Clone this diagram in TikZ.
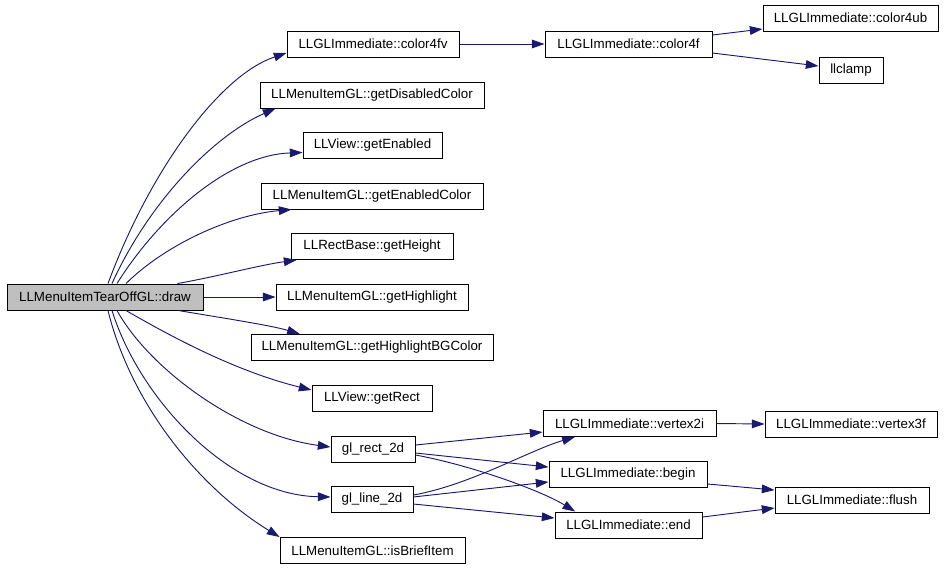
\documentclass[tikz,border=0pt]{standalone}
\usepackage{fontspec}
\setmainfont{Liberation Sans}
\usetikzlibrary{arrows.meta}
\definecolor{edgec}{HTML}{191970}
\definecolor{hl}{HTML}{BFBFBF}
\begin{document}
\begin{tikzpicture}[x=0.75pt,y=-0.75pt,
  box/.style={draw=black,line width=0.75pt,rectangle,minimum height=19.5pt,inner sep=0pt,font=\fontsize{10}{12}\selectfont,fill=white},
  edge/.style={draw=edgec,line width=0.7pt,-{Triangle[length=9.5pt,width=6.5pt]}}]
\useasboundingbox (0,0) rectangle (944,569);
% nodes
\node[box,fill=hl,minimum width=147pt] (main) at (105,297) {LLMenuItemTearOffGL::draw};
\node[box,minimum width=129pt] (c4fv) at (373,44) {LLGLImmediate::color4fv};
\node[box,minimum width=125.25pt] (c4f) at (628.5,44) {LLGLImmediate::color4f};
\node[box,minimum width=131.25pt] (c4ub) at (850.5,18) {LLGLImmediate::color4ub};
\node[box,minimum width=48pt] (clamp) at (851,70) {llclamp};
\node[box,minimum width=168pt] (gdc) at (372,95) {LLMenuItemGL::getDisabledColor};
\node[box,minimum width=104.25pt] (gen) at (372.5,145.5) {LLView::getEnabled};
\node[box,minimum width=166.5pt] (genc) at (372,196) {LLMenuItemGL::getEnabledColor};
\node[box,minimum width=121.5pt] (ghgt) at (372,246.5) {LLRectBase::getHeight};
\node[box,minimum width=144pt] (ghl) at (372,297) {LLMenuItemGL::getHighlight};
\node[box,minimum width=181.5pt] (ghbg) at (372,347.5) {LLMenuItemGL::getHighlightBGColor};
\node[box,minimum width=90pt] (grect) at (372,398) {LLView::getRect};
\node[box,minimum width=63pt] (glrect) at (373,449) {gl\_rect\_2d};
\node[box,minimum width=61.5pt] (glline) at (372,499.5) {gl\_line\_2d};
\node[box,minimum width=138.75pt] (brief) at (372.5,550.5) {LLMenuItemGL::isBriefItem};
\node[box,minimum width=129.75pt] (v2i) at (629.5,423.5) {LLGLImmediate::vertex2i};
\node[box,minimum width=129pt] (v3f) at (851,424) {LLGLImmediate::vertex3f};
\node[box,minimum width=118.5pt] (nbegin) at (628,474.5) {LLGLImmediate::begin};
\node[box,minimum width=110.25pt] (nend) at (628.5,525) {LLGLImmediate::end};
\node[box,minimum width=115.5pt] (flush) at (852,500) {LLGLImmediate::flush};
% edges from main
\draw[edge] ([xshift=2.25pt]main.north) .. controls (150,170) and (220,75) .. ([yshift=-6.75pt]c4fv.west);
\draw[edge] ([xshift=5.25pt]main.north) .. controls (150,200) and (215,135) .. ([xshift=12pt]gdc.south west);
\draw[edge] ([xshift=9pt]main.north) .. controls (160,215) and (230,155) .. ([yshift=-5.25pt]gen.west);
\draw[edge] ([xshift=15.75pt]main.north) .. controls (165,245) and (230,215) .. ([xshift=23.25pt]genc.south west);
\draw[edge] ([xshift=-19.5pt]main.north east) .. controls (215,277) and (260,265) .. ([xshift=4.5pt]ghgt.south west);
\draw[edge] (main.east) -- (ghl.west);
\draw[edge] ([xshift=-18.75pt]main.south east) .. controls (210,316) and (270,325) .. ([xshift=37pt]ghbg.north west);
\draw[edge] ([xshift=15.75pt]main.south) .. controls (160,330) and (230,370) .. ([yshift=6pt]grect.west);
\draw[edge] ([xshift=9pt]main.south) .. controls (150,370) and (240,435) .. ([yshift=1.5pt]glrect.west);
\draw[edge] ([xshift=5.25pt]main.south) .. controls (140,400) and (230,495) .. ([yshift=1.9pt]glline.west);
\draw[edge] ([xshift=2.25pt]main.south) .. controls (130,400) and (195,485) .. (brief.north west);
% second level
\draw[edge] (c4fv.east) -- (c4f.west);
\draw[edge] ([yshift=6.75pt]c4f.east) -- ([yshift=-8.25pt]c4ub.west);
\draw[edge] ([yshift=-6.75pt]c4f.east) -- ([yshift=3pt]clamp.west);
\draw[edge] ([yshift=3pt]glrect.east) -- ([yshift=-6.4pt]v2i.west);
\draw[edge] ([yshift=-3pt]glrect.east) -- ([yshift=5.6pt]nbegin.west);
\draw[edge] ([yshift=-4.5pt]glrect.east) .. controls (470,465) and (540,490) .. ([xshift=-40pt]nend.north);
\draw[edge] ([yshift=3.4pt]glline.east) .. controls (470,485) and (530,450) .. ([xshift=-41pt]v2i.south);
\draw[edge] ([yshift=1.9pt]glline.east) -- ([yshift=-5.6pt]nbegin.west);
\draw[edge] ([yshift=-3.4pt]glline.east) -- ([yshift=5.25pt]nend.west);
\draw[edge] (v2i.east) -- (v3f.west);
\draw[edge] ([yshift=-7.1pt]nbegin.east) -- ([yshift=7.5pt]flush.west);
\draw[edge] ([yshift=6pt]nend.east) -- ([yshift=-6pt]flush.west);
\end{tikzpicture}
\end{document}
